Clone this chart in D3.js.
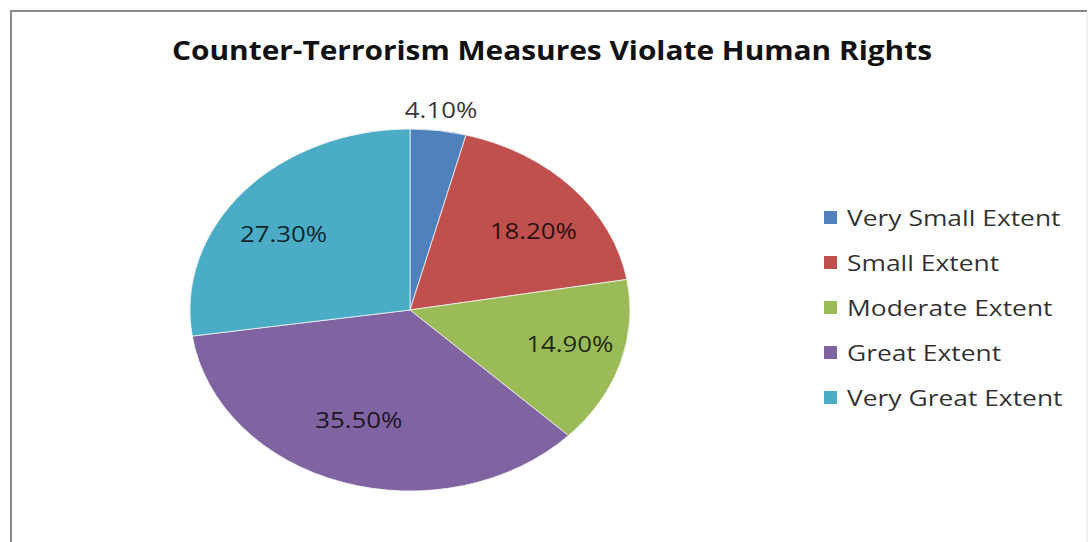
<!DOCTYPE html>
<html>
<head>
<meta charset="utf-8">
<script src="https://cdn.jsdelivr.net/npm/d3@7"></script>
<style>
  html, body { margin: 0; padding: 0; background: #ffffff; }
  svg { display: block; }
  text { font-family: "Open Sans", "Noto Sans", sans-serif; }
</style>
</head>
<body>
<svg id="chart" width="1092" height="542"></svg>
<script>
// Survey responses: extent to which counter-terrorism measures violate human rights
const categories = ["Very Small Extent", "Small Extent", "Moderate Extent", "Great Extent", "Very Great Extent"];
const values = [4.1, 18.2, 14.9, 35.5, 27.3];
const palette = ["#4F81BD", "#C0504D", "#9BBB59", "#8064A2", "#4BACC6"];
const chartTitle = "Counter-Terrorism Measures Violate Human Rights";

const W = 1092, H = 542;
const svg = d3.select("#chart");

// Horizontal widening of text glyphs for the wide chart layout
function stretch(sel, k) {
  sel.each(function () {
    const w = this.getComputedTextLength();
    d3.select(this).attr("textLength", w * k).attr("lengthAdjust", "spacingAndGlyphs");
  });
}

// Chart frame
svg.append("line").attr("x1", 11).attr("y1", 11).attr("x2", 11).attr("y2", H + 5)
  .attr("stroke", "#8a8a8a").attr("stroke-width", 2);
svg.append("line").attr("x1", 10).attr("y1", 11).attr("x2", 1087).attr("y2", 11)
  .attr("stroke", "#8a8a8a").attr("stroke-width", 2);
svg.append("line").attr("x1", 1087).attr("y1", 12).attr("x2", 1087).attr("y2", H + 5)
  .attr("stroke", "#e4e4e4").attr("stroke-width", 1);

// Title
svg.append("text")
  .attr("x", 552).attr("y", 60)
  .attr("text-anchor", "middle")
  .attr("font-size", 27)
  .attr("font-weight", 700)
  .attr("fill", "#111")
  .text(chartTitle)
  .call(stretch, 1.105);

// Elliptical pie: a circular pie squashed vertically
const cx = 410, cy = 310, rx = 220, ry = 181;
const yScale = ry / rx;

const color = d3.scaleOrdinal().domain(categories).range(palette);
const pie = d3.pie().sort(null).value(d => d.value);
const data = categories.map((c, i) => ({ category: c, value: values[i] }));
const arcs = pie(data);
const arc = d3.arc().innerRadius(0).outerRadius(rx);

const pieG = svg.append("g")
  .attr("transform", `translate(${cx},${cy}) scale(1,${yScale})`);

pieG.selectAll("path")
  .data(arcs)
  .join("path")
  .attr("d", arc)
  .attr("fill", d => color(d.data.category))
  .attr("stroke", "#f4f4f4")
  .attr("stroke-width", 0.8)
  .attr("vector-effect", "non-scaling-stroke");

// Data labels: inside the slice, or just outside for very thin slices
const fmt = v => v.toFixed(2) + "%";
function labelPos(d) {
  const a = (d.startAngle + d.endAngle) / 2;
  const sx = Math.sin(a), cyv = -Math.cos(a);
  if (d.endAngle - d.startAngle < 0.35) {
    return [cx + rx * 1.1 * sx, cy + ry * 1.11 * cyv];
  }
  return [cx + rx * 0.76 * sx, cy + ry * 0.64 * cyv];
}

svg.append("g").selectAll("text")
  .data(arcs)
  .join("text")
  .attr("x", d => labelPos(d)[0])
  .attr("y", d => labelPos(d)[1])
  .attr("dy", "0.36em")
  .attr("text-anchor", "middle")
  .attr("font-size", 21)
  .attr("fill", "#000")
  .attr("fill-opacity", 0.8)
  .text(d => fmt(d.data.value))
  .call(stretch, 1.23);

// Legend
const legendY = d3.scalePoint().domain(categories).range([218, 398]);
const legend = svg.append("g");
const items = legend.selectAll("g")
  .data(categories)
  .join("g")
  .attr("transform", d => `translate(0,${legendY(d)})`);

items.append("rect")
  .attr("x", 824).attr("y", -7)
  .attr("width", 13).attr("height", 13)
  .attr("fill", d => color(d));

items.append("text")
  .attr("x", 847).attr("y", 0)
  .attr("dy", "0.36em")
  .attr("font-size", 22)
  .attr("fill", "#000")
  .attr("fill-opacity", 0.82)
  .text(d => d)
  .call(stretch, 1.2);
</script>
</body>
</html>
